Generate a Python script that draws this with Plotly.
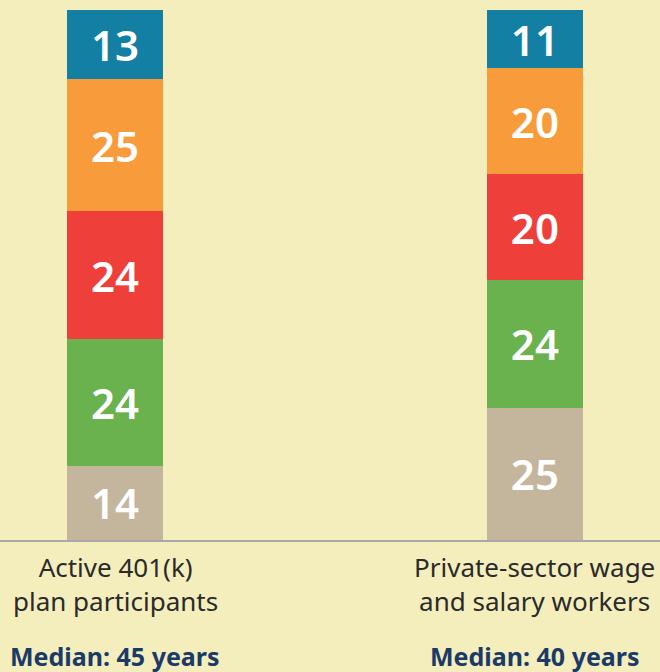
import plotly.graph_objects as go

categories = ["Active 401(k)<br>plan participants", "Private-sector wage<br>and salary workers"]
medians = ["Median: 45 years", "Median: 40 years"]
age_groups = ["20s", "30s", "40s", "50s", "60s"]
values_20s = [14, 25]
values_30s = [24, 24]
values_40s = [24, 20]
values_50s = [25, 20]
values_60s = [13, 11]
series = [values_20s, values_30s, values_40s, values_50s, values_60s]
colors = ["#c4b59d", "#6ab24e", "#ef3f3a", "#f89b3b", "#137fa2"]

BG = "#f4eebd"
H_PLOT = 530.0
BASE = 540.0

def py(ypx):
    return (BASE - ypx) / H_PLOT

fig = go.Figure()
for name, vals, col in zip(age_groups, series, colors):
    fig.add_trace(go.Bar(
        x=categories, y=vals, name=name,
        marker=dict(color=col, line=dict(width=0)),
        width=0.2286,
        text=vals, texttemplate="%{text}",
        textposition="inside", insidetextanchor="middle", textangle=0,
        textfont=dict(family="Noto Sans", size=42, color="white", weight=600),
        hoverinfo="skip",
    ))

for cat, med in zip(categories, medians):
    fig.add_annotation(x=cat, xref="x", y=py(584), yref="paper", yanchor="middle",
                       text=cat, showarrow=False,
                       font=dict(family="Noto Sans", size=26, color="#2a2a2a"))
    fig.add_annotation(x=cat, xref="x", y=py(656), yref="paper", yanchor="middle",
                       text="<b>" + med + "</b>", showarrow=False,
                       font=dict(family="Noto Sans", size=25, color="#1b3a68"))

fig.update_layout(
    width=660, height=672,
    barmode="stack",
    showlegend=False,
    paper_bgcolor=BG, plot_bgcolor=BG,
    margin=dict(l=0, r=0, t=10, b=132),
    uniformtext=dict(minsize=42, mode="show"),
    xaxis=dict(type="category", range=[-0.274, 1.298], showticklabels=False,
               showline=True, linecolor="#a8a8a8", linewidth=2, showgrid=False,
               zeroline=False, fixedrange=True),
    yaxis=dict(range=[0, 100], showticklabels=False, showgrid=False,
               zeroline=False, showline=False, fixedrange=True),
)

fig.write_html("out.html", config={"displayModeBar": False},
               post_script="document.body.style.margin='0';document.body.style.background='%s';" % BG)
